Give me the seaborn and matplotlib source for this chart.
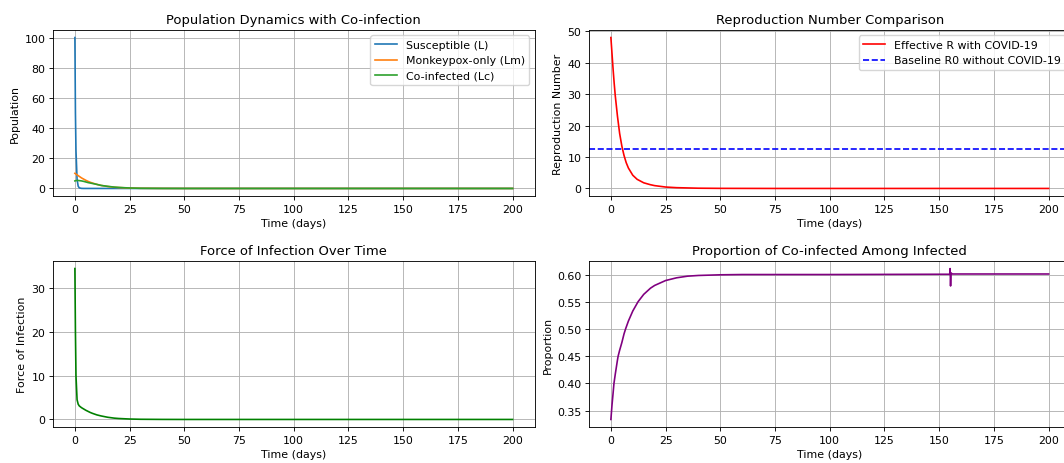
import matplotlib
matplotlib.use("Agg")
import matplotlib.pyplot as plt
import seaborn as sns
import numpy as np

# ---------------- data ----------------
time_days = [0, 0.25, 0.5, 1, 1.5, 2, 3, 4, 5, 6, 7, 8, 10, 12, 15, 18, 20,
             25, 30, 40, 50, 75, 100, 125, 150, 175, 200]

susceptible = [100, 50, 25, 6, 1.5, 0.4, 0.05, 0, 0, 0, 0, 0, 0, 0, 0, 0, 0,
               0, 0, 0, 0, 0, 0, 0, 0, 0, 0]
monkeypox_only = [10, 9.8, 9.5, 9.0, 8.5, 8.0, 7.0, 6.2, 5.4, 4.7, 4.1, 3.6, 2.7,
                  2.0, 1.3, 0.8, 0.6, 0.25, 0.1, 0.02, 0, 0, 0, 0, 0, 0, 0]
co_infected = [5.0, 5.1, 5.2, 5.3, 5.3, 5.2, 5.0, 4.7, 4.3, 3.9, 3.6, 3.3, 2.7,
               2.0, 1.4, 0.9, 0.7, 0.3, 0.12, 0.03, 0, 0, 0, 0, 0, 0, 0]

effective_R = [48, 45.5, 43, 38, 33.5, 29.5, 23, 17.5, 13.5, 10.5, 8.2, 6.5, 4.2,
               2.9, 1.8, 1.2, 0.9, 0.45, 0.25, 0.08, 0.03, 0, 0, 0, 0, 0, 0]
baseline_R0 = 12.4

force_of_infection = [34.5, 20, 10, 4.5, 3.5, 3.1, 2.7, 2.4, 2.1, 1.85, 1.6, 1.4,
                      1.05, 0.8, 0.5, 0.3, 0.22, 0.1, 0.04, 0.01, 0, 0, 0, 0, 0, 0, 0]

prop_time = [0, 0.5, 1, 1.4, 2, 3, 3.3, 4, 5, 6, 6.7, 8, 10, 12.4, 15, 18.1, 20,
             25, 30, 35, 40, 50, 60, 100, 150, 154.8, 155.0, 155.2, 155.4, 156, 200]
proportion = [0.334, 0.360, 0.382, 0.400, 0.417, 0.443, 0.450, 0.461, 0.475,
              0.491, 0.500, 0.5146, 0.533, 0.550, 0.5636, 0.575, 0.580,
              0.589, 0.594, 0.597, 0.5983, 0.5995, 0.600, 0.600, 0.6005,
              0.6005, 0.611, 0.579, 0.603, 0.601, 0.601]

x_ticks = [0, 25, 50, 75, 100, 125, 150, 175, 200]

# ---------------- style (reference is a ~0.79 downscale of default mpl) ----------------
s = 0.79
plt.rcParams.update({
    "font.size": 10 * s,
    "axes.titlesize": 12 * s,
    "axes.labelsize": 10 * s,
    "xtick.labelsize": 10 * s,
    "ytick.labelsize": 10 * s,
    "legend.fontsize": 10 * s,
    "lines.linewidth": 1.5 * s,
    "axes.linewidth": 0.8 * s,
    "grid.linewidth": 0.8 * s,
    "xtick.major.size": 3.5 * s,
    "ytick.major.size": 3.5 * s,
    "xtick.major.width": 0.8 * s,
    "ytick.major.width": 0.8 * s,
    "xtick.major.pad": 3.5 * s,
    "ytick.major.pad": 3.5 * s,
    "axes.titlepad": 6 * s,
    "axes.labelpad": 4 * s,
})

fig = plt.figure(figsize=(10.64, 4.64), dpi=100)
W, H = 1064.0, 464.0

def axes_px(x0, y0, x1, y1):
    return fig.add_axes([x0 / W, 1 - y1 / H, (x1 - x0) / W, (y1 - y0) / H])

ax1 = axes_px(53, 31, 534.5, 197)
ax2 = axes_px(589, 31, 1070.5, 197)
ax3 = axes_px(53, 262, 534.5, 428)
ax4 = axes_px(589, 262, 1070.5, 428)

# Population dynamics
sns.lineplot(x=time_days, y=susceptible, ax=ax1, color="tab:blue", label="Susceptible (L)")
sns.lineplot(x=time_days, y=monkeypox_only, ax=ax1, color="tab:orange", label="Monkeypox-only (Lm)")
sns.lineplot(x=time_days, y=co_infected, ax=ax1, color="tab:green", label="Co-infected (Lc)")
ax1.set_title("Population Dynamics with Co-infection")
ax1.set_xlabel("Time (days)")
ax1.set_ylabel("Population")
ax1.set_yticks([0, 20, 40, 60, 80, 100])
ax1.legend(loc="upper right")
ax1.grid(True)

# Reproduction number
sns.lineplot(x=time_days, y=effective_R, ax=ax2, color="red", label="Effective R with COVID-19")
ax2.axhline(baseline_R0, color="blue", linestyle="--", label="Baseline R0 without COVID-19")
ax2.set_title("Reproduction Number Comparison")
ax2.set_xlabel("Time (days)")
ax2.set_ylabel("Reproduction Number")
ax2.set_yticks([0, 10, 20, 30, 40, 50])
ax2.legend(loc="upper right")
ax2.grid(True)

# Force of infection
sns.lineplot(x=time_days, y=force_of_infection, ax=ax3, color="green")
ax3.set_title("Force of Infection Over Time")
ax3.set_xlabel("Time (days)")
ax3.set_ylabel("Force of Infection")
ax3.set_yticks([0, 10, 20, 30])
ax3.grid(True)

# Proportion co-infected
sns.lineplot(x=prop_time, y=proportion, ax=ax4, color="purple")
ax4.set_title("Proportion of Co-infected Among Infected")
ax4.set_xlabel("Time (days)")
ax4.set_ylabel("Proportion")
ax4.set_yticks([0.35, 0.40, 0.45, 0.50, 0.55, 0.60])
ax4.grid(True)

for ax in (ax1, ax2, ax3, ax4):
    ax.set_xticks(x_ticks)

fig.savefig("out.png", dpi=100)
